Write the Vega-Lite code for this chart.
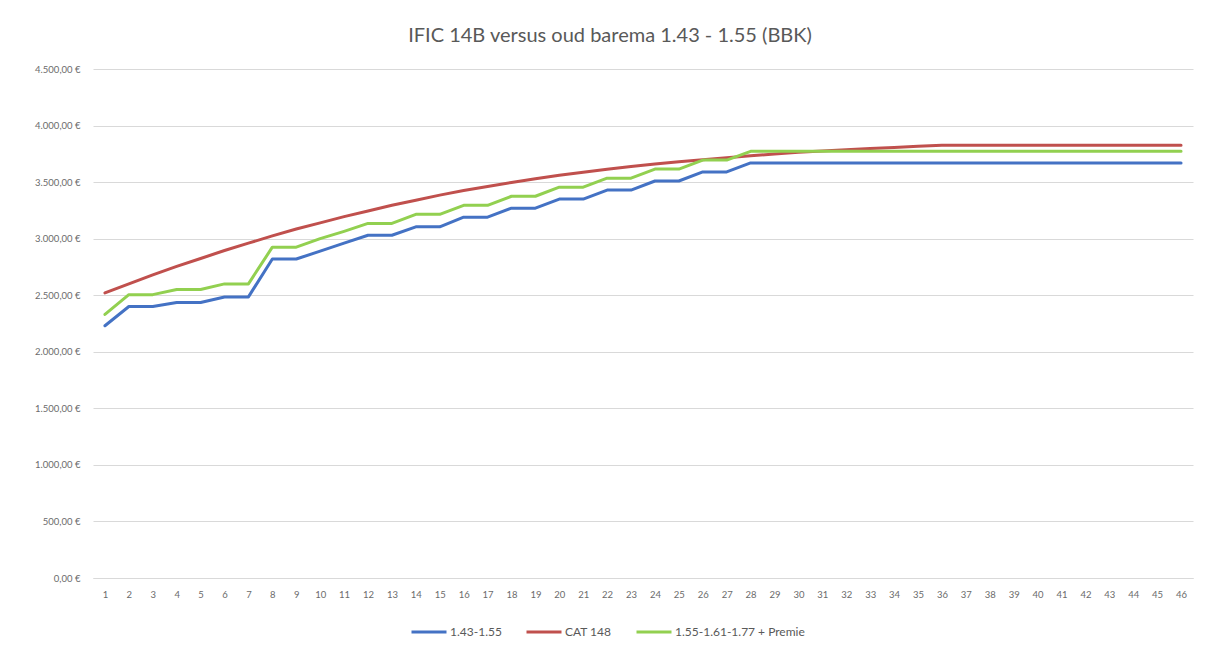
{
  "$schema": "https://vega.github.io/schema/vega-lite/v6.json",
  "autosize": "none",
  "width": 1100,
  "height": 509,
  "padding": {"left": 93, "top": 69, "right": 18, "bottom": 73},
  "background": "white",
  "title": {
    "text": "IFIC 14B versus oud barema 1.43 - 1.55 (BBK)",
    "fontSize": 20,
    "font": "Lato",
    "fontWeight": "normal",
    "color": "#595959",
    "anchor": "middle",
    "dx": -33,
    "offset": 18
  },
  "config": {
    "view": {"stroke": null},
    "font": "Lato",
    "axis": {"labelColor": "#6b6b6b", "labelFontSize": 9.5, "labelFont": "Lato", "gridColor": "#d9d9d9", "gridWidth": 1},
    "legend": {"labelColor": "#595959", "labelFontSize": 12, "labelFont": "Lato"}
  },
  "data": {
    "values": [
      {"x": 1, "s": "1.43-1.55", "v": 2230}, {"x": 2, "s": "1.43-1.55", "v": 2400}, {"x": 3, "s": "1.43-1.55", "v": 2400}, {"x": 4, "s": "1.43-1.55", "v": 2435}, {"x": 5, "s": "1.43-1.55", "v": 2435}, {"x": 6, "s": "1.43-1.55", "v": 2485}, {"x": 7, "s": "1.43-1.55", "v": 2485}, {"x": 8, "s": "1.43-1.55", "v": 2820}, {"x": 9, "s": "1.43-1.55", "v": 2820}, {"x": 10, "s": "1.43-1.55", "v": 2890},
      {"x": 11, "s": "1.43-1.55", "v": 2960}, {"x": 12, "s": "1.43-1.55", "v": 3030}, {"x": 13, "s": "1.43-1.55", "v": 3030}, {"x": 14, "s": "1.43-1.55", "v": 3105}, {"x": 15, "s": "1.43-1.55", "v": 3105}, {"x": 16, "s": "1.43-1.55", "v": 3190}, {"x": 17, "s": "1.43-1.55", "v": 3190}, {"x": 18, "s": "1.43-1.55", "v": 3270}, {"x": 19, "s": "1.43-1.55", "v": 3270}, {"x": 20, "s": "1.43-1.55", "v": 3350},
      {"x": 21, "s": "1.43-1.55", "v": 3350}, {"x": 22, "s": "1.43-1.55", "v": 3430}, {"x": 23, "s": "1.43-1.55", "v": 3430}, {"x": 24, "s": "1.43-1.55", "v": 3510}, {"x": 25, "s": "1.43-1.55", "v": 3510}, {"x": 26, "s": "1.43-1.55", "v": 3590}, {"x": 27, "s": "1.43-1.55", "v": 3590}, {"x": 28, "s": "1.43-1.55", "v": 3670}, {"x": 29, "s": "1.43-1.55", "v": 3670}, {"x": 30, "s": "1.43-1.55", "v": 3670},
      {"x": 31, "s": "1.43-1.55", "v": 3670}, {"x": 32, "s": "1.43-1.55", "v": 3670}, {"x": 33, "s": "1.43-1.55", "v": 3670}, {"x": 34, "s": "1.43-1.55", "v": 3670}, {"x": 35, "s": "1.43-1.55", "v": 3670}, {"x": 36, "s": "1.43-1.55", "v": 3670}, {"x": 37, "s": "1.43-1.55", "v": 3670}, {"x": 38, "s": "1.43-1.55", "v": 3670}, {"x": 39, "s": "1.43-1.55", "v": 3670}, {"x": 40, "s": "1.43-1.55", "v": 3670},
      {"x": 41, "s": "1.43-1.55", "v": 3670}, {"x": 42, "s": "1.43-1.55", "v": 3670}, {"x": 43, "s": "1.43-1.55", "v": 3670}, {"x": 44, "s": "1.43-1.55", "v": 3670}, {"x": 45, "s": "1.43-1.55", "v": 3670}, {"x": 46, "s": "1.43-1.55", "v": 3670},

      {"x": 1, "s": "CAT 148", "v": 2520}, {"x": 2, "s": "CAT 148", "v": 2600}, {"x": 3, "s": "CAT 148", "v": 2680}, {"x": 4, "s": "CAT 148", "v": 2755}, {"x": 5, "s": "CAT 148", "v": 2825}, {"x": 6, "s": "CAT 148", "v": 2895}, {"x": 7, "s": "CAT 148", "v": 2960}, {"x": 8, "s": "CAT 148", "v": 3025}, {"x": 9, "s": "CAT 148", "v": 3085}, {"x": 10, "s": "CAT 148", "v": 3140},
      {"x": 11, "s": "CAT 148", "v": 3195}, {"x": 12, "s": "CAT 148", "v": 3245}, {"x": 13, "s": "CAT 148", "v": 3295}, {"x": 14, "s": "CAT 148", "v": 3340}, {"x": 15, "s": "CAT 148", "v": 3385}, {"x": 16, "s": "CAT 148", "v": 3425}, {"x": 17, "s": "CAT 148", "v": 3462}, {"x": 18, "s": "CAT 148", "v": 3497}, {"x": 19, "s": "CAT 148", "v": 3530}, {"x": 20, "s": "CAT 148", "v": 3560},
      {"x": 21, "s": "CAT 148", "v": 3588}, {"x": 22, "s": "CAT 148", "v": 3614}, {"x": 23, "s": "CAT 148", "v": 3638}, {"x": 24, "s": "CAT 148", "v": 3660}, {"x": 25, "s": "CAT 148", "v": 3680}, {"x": 26, "s": "CAT 148", "v": 3698}, {"x": 27, "s": "CAT 148", "v": 3716}, {"x": 28, "s": "CAT 148", "v": 3733}, {"x": 29, "s": "CAT 148", "v": 3749}, {"x": 30, "s": "CAT 148", "v": 3763},
      {"x": 31, "s": "CAT 148", "v": 3776}, {"x": 32, "s": "CAT 148", "v": 3787}, {"x": 33, "s": "CAT 148", "v": 3797}, {"x": 34, "s": "CAT 148", "v": 3807}, {"x": 35, "s": "CAT 148", "v": 3816}, {"x": 36, "s": "CAT 148", "v": 3826}, {"x": 37, "s": "CAT 148", "v": 3826}, {"x": 38, "s": "CAT 148", "v": 3826}, {"x": 39, "s": "CAT 148", "v": 3826}, {"x": 40, "s": "CAT 148", "v": 3826},
      {"x": 41, "s": "CAT 148", "v": 3826}, {"x": 42, "s": "CAT 148", "v": 3826}, {"x": 43, "s": "CAT 148", "v": 3826}, {"x": 44, "s": "CAT 148", "v": 3826}, {"x": 45, "s": "CAT 148", "v": 3826}, {"x": 46, "s": "CAT 148", "v": 3826},

      {"x": 1, "s": "1.55-1.61-1.77 + Premie", "v": 2330}, {"x": 2, "s": "1.55-1.61-1.77 + Premie", "v": 2505}, {"x": 3, "s": "1.55-1.61-1.77 + Premie", "v": 2505}, {"x": 4, "s": "1.55-1.61-1.77 + Premie", "v": 2550}, {"x": 5, "s": "1.55-1.61-1.77 + Premie", "v": 2550}, {"x": 6, "s": "1.55-1.61-1.77 + Premie", "v": 2600}, {"x": 7, "s": "1.55-1.61-1.77 + Premie", "v": 2600}, {"x": 8, "s": "1.55-1.61-1.77 + Premie", "v": 2925}, {"x": 9, "s": "1.55-1.61-1.77 + Premie", "v": 2925}, {"x": 10, "s": "1.55-1.61-1.77 + Premie", "v": 3000},
      {"x": 11, "s": "1.55-1.61-1.77 + Premie", "v": 3065}, {"x": 12, "s": "1.55-1.61-1.77 + Premie", "v": 3135}, {"x": 13, "s": "1.55-1.61-1.77 + Premie", "v": 3135}, {"x": 14, "s": "1.55-1.61-1.77 + Premie", "v": 3215}, {"x": 15, "s": "1.55-1.61-1.77 + Premie", "v": 3215}, {"x": 16, "s": "1.55-1.61-1.77 + Premie", "v": 3295}, {"x": 17, "s": "1.55-1.61-1.77 + Premie", "v": 3295}, {"x": 18, "s": "1.55-1.61-1.77 + Premie", "v": 3375}, {"x": 19, "s": "1.55-1.61-1.77 + Premie", "v": 3375}, {"x": 20, "s": "1.55-1.61-1.77 + Premie", "v": 3455},
      {"x": 21, "s": "1.55-1.61-1.77 + Premie", "v": 3455}, {"x": 22, "s": "1.55-1.61-1.77 + Premie", "v": 3535}, {"x": 23, "s": "1.55-1.61-1.77 + Premie", "v": 3535}, {"x": 24, "s": "1.55-1.61-1.77 + Premie", "v": 3615}, {"x": 25, "s": "1.55-1.61-1.77 + Premie", "v": 3615}, {"x": 26, "s": "1.55-1.61-1.77 + Premie", "v": 3695}, {"x": 27, "s": "1.55-1.61-1.77 + Premie", "v": 3695}, {"x": 28, "s": "1.55-1.61-1.77 + Premie", "v": 3772}, {"x": 29, "s": "1.55-1.61-1.77 + Premie", "v": 3772}, {"x": 30, "s": "1.55-1.61-1.77 + Premie", "v": 3772},
      {"x": 31, "s": "1.55-1.61-1.77 + Premie", "v": 3772}, {"x": 32, "s": "1.55-1.61-1.77 + Premie", "v": 3772}, {"x": 33, "s": "1.55-1.61-1.77 + Premie", "v": 3772}, {"x": 34, "s": "1.55-1.61-1.77 + Premie", "v": 3772}, {"x": 35, "s": "1.55-1.61-1.77 + Premie", "v": 3772}, {"x": 36, "s": "1.55-1.61-1.77 + Premie", "v": 3772}, {"x": 37, "s": "1.55-1.61-1.77 + Premie", "v": 3772}, {"x": 38, "s": "1.55-1.61-1.77 + Premie", "v": 3772}, {"x": 39, "s": "1.55-1.61-1.77 + Premie", "v": 3772}, {"x": 40, "s": "1.55-1.61-1.77 + Premie", "v": 3772},
      {"x": 41, "s": "1.55-1.61-1.77 + Premie", "v": 3772}, {"x": 42, "s": "1.55-1.61-1.77 + Premie", "v": 3772}, {"x": 43, "s": "1.55-1.61-1.77 + Premie", "v": 3772}, {"x": 44, "s": "1.55-1.61-1.77 + Premie", "v": 3772}, {"x": 45, "s": "1.55-1.61-1.77 + Premie", "v": 3772}, {"x": 46, "s": "1.55-1.61-1.77 + Premie", "v": 3772}
    ]
  },
  "mark": {"type": "line", "strokeWidth": 3, "strokeCap": "round", "strokeJoin": "round"},
  "encoding": {
    "x": {
      "field": "x",
      "type": "ordinal",
      "scale": {"type": "point", "padding": 0.5},
      "axis": {"title": null, "labelAngle": 0, "ticks": false, "domainColor": "#d9d9d9", "labelPadding": 11, "grid": false}
    },
    "y": {
      "field": "v",
      "type": "quantitative",
      "scale": {"domain": [0, 4500], "nice": false},
      "axis": {
        "title": null,
        "values": [0, 500, 1000, 1500, 2000, 2500, 3000, 3500, 4000, 4500],
        "domain": false,
        "ticks": false,
        "labelPadding": 13,
        "labelExpr": "replace(replace(replace(format(datum.value, ',.2f'), ',', '#'), '.', ','), '#', '.') + ' €'"
      }
    },
    "color": {
      "field": "s",
      "type": "nominal",
      "sort": ["1.43-1.55", "CAT 148", "1.55-1.61-1.77 + Premie"],
      "scale": {"domain": ["1.43-1.55", "CAT 148", "1.55-1.61-1.77 + Premie"], "range": ["#4472C4", "#C0504D", "#92D050"]},
      "legend": {
        "title": null,
        "orient": "none",
        "direction": "horizontal",
        "legendX": 317,
        "legendY": 544,
        "symbolType": "stroke",
        "symbolSize": 1225,
        "symbolStrokeWidth": 3,
        "labelOffset": 2,
        "columnPadding": 18
      }
    }
  }
}
